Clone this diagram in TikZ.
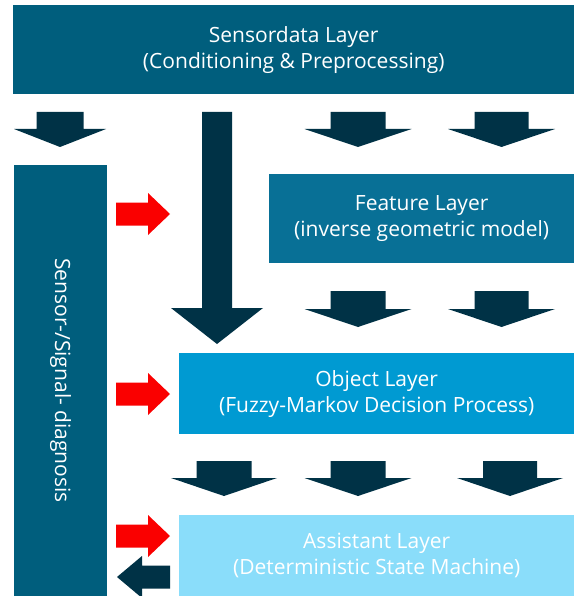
\documentclass[tikz,border=0pt]{standalone}
\usepackage{fontspec}
\setmainfont{Open Sans}
\definecolor{layerdark}{RGB}{0,94,125}
\definecolor{layerfeat}{RGB}{8,112,150}
\definecolor{layerobj}{RGB}{0,154,210}
\definecolor{layerasst}{RGB}{138,221,250}
\definecolor{arrdark}{RGB}{0,50,70}
\definecolor{arrred}{RGB}{250,0,0}
\newcommand\arrowdn[7]{% style, cx, top, shaftw, headw, headtop, tip
  \fill[#1] ({#2-#4/2},#3) -- ({#2+#4/2},#3) -- ({#2+#4/2},#6) -- ({#2+#5/2},#6) -- (#2,#7) -- ({#2-#5/2},#6) -- ({#2-#4/2},#6) -- cycle;}
\newcommand\arrowhz[7]{% style, cy, tail, shafth, headh, headbase, tip
  \fill[#1] (#3,{#2-#4/2}) -- (#6,{#2-#4/2}) -- (#6,{#2-#5/2}) -- (#7,#2) -- (#6,{#2+#5/2}) -- (#6,{#2+#4/2}) -- (#3,{#2+#4/2}) -- cycle;}
\tikzset{
  layer/.style={draw=none, text=white, align=center, inner sep=0pt, anchor=north west,
    font=\fontsize{21}{26}\selectfont},
}
\begin{document}
\begin{tikzpicture}[x=1pt,y=-1pt]
\useasboundingbox[fill=white] (0,0) rectangle (574,596);
% layers
\node[layer, fill=layerdark, minimum width=561pt, minimum height=89pt] (sensordata) at (13,5)
  {Sensordata Layer\\(Conditioning \& Preprocessing)};
\node[layer, fill=layerfeat, minimum width=305pt, minimum height=89pt] (feature) at (269,174)
  {Feature Layer\\(inverse geometric model)};
\node[layer, fill=layerobj, minimum width=395pt, minimum height=81pt] (object) at (179,353)
  {Object Layer\\(Fuzzy-Markov Decision Process)};
\node[layer, fill=layerasst, minimum width=395pt, minimum height=81pt] (assistant) at (179,515)
  {Assistant Layer\\(Deterministic State Machine)};
\node[draw=none, fill=layerdark, text=white, inner sep=0pt, rotate=-90,
  minimum width=431pt, minimum height=93pt, font=\fontsize{21}{26}\selectfont] (diag) at (60.5,380.5)
  {Sensor-/Signal- diagnosis};
% row 1 arrows
\arrowdn{arrdark}{60}{112}{47}{92}{129}{147}
\arrowdn{arrdark}{358}{112}{55}{107}{129}{147}
\arrowdn{arrdark}{501.5}{112}{54}{107}{129}{147}
% big arrow
\arrowdn{arrdark}{217}{112}{30}{92}{308}{344}
% row 2 arrows
\arrowdn{arrdark}{358}{291}{55}{107}{309}{327}
\arrowdn{arrdark}{501.5}{291}{54}{107}{309}{327}
% row 3 arrows
\arrowdn{arrdark}{224}{461}{55}{106}{478}{496}
\arrowdn{arrdark}{358}{461}{55}{107}{478}{496}
\arrowdn{arrdark}{510}{461}{54}{106}{478}{496}
% red arrows
\arrowhz{arrred}{214}{116}{23}{42}{148}{170}
\arrowhz{arrred}{394}{116}{23}{42}{148}{170}
\arrowhz{arrred}{536}{116}{23}{42}{148}{170}
% feedback arrow
\arrowhz{arrdark}{577}{170}{23}{42}{142}{117}
\end{tikzpicture}
\end{document}
